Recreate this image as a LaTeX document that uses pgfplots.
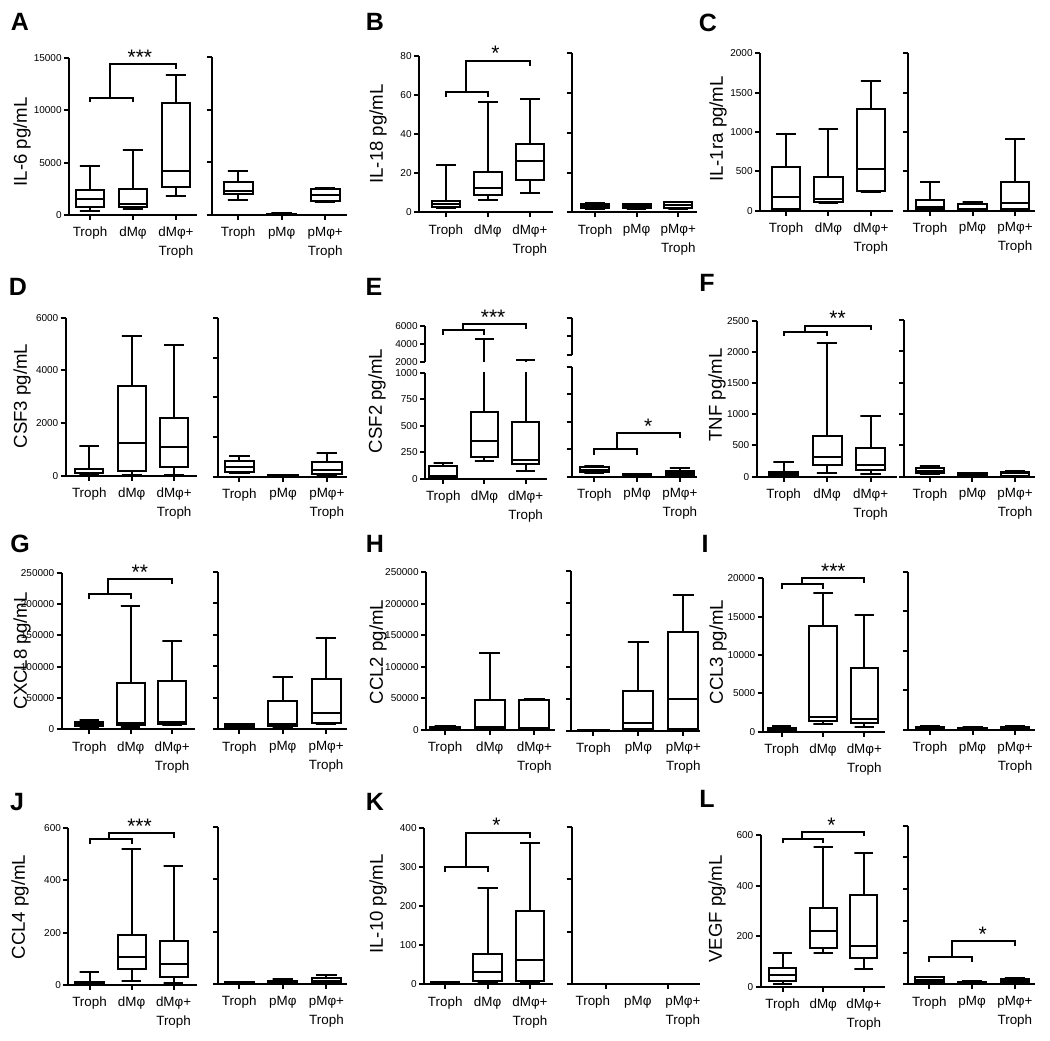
\documentclass[border=0pt]{standalone}
\usepackage{fontspec}
\setmainfont{Liberation Sans}
\usepackage{pgfplots}
\pgfplotsset{compat=1.18}
\pgfplotsset{
  base/.style={scale only axis, anchor=south west,
    axis x line*=bottom, axis y line*=left,
    axis line style={line width=1pt, black},
    every tick/.style={black, line width=1pt},
    tick align=outside, major tick length=2.5pt,
    xtick={1,2,3}, clip=false, ymin=0, scaled y ticks=false,
    yticklabel style={font=\fontsize{5}{6}\selectfont, /pgf/number format/fixed,
      /pgf/number format/1000 sep={}, /pgf/number format/assume math mode=true, inner sep=1pt},
    xticklabel style={font=\fontsize{6.7}{9.5}\selectfont, align=center},
  },
  LA/.style={base, xticklabels={Troph,dMφ,{dMφ+\\Troph}}},
  RA/.style={base, xticklabels={Troph,pMφ,{pMφ+\\Troph}}, yticklabels={}},
  boxline/.style={black, line width=1pt, solid, mark=none},
}
\tikzset{sig/.style={anchor=base, inner sep=0pt, font=\fontsize{10.5}{12}\selectfont}}
\newcommand{\bx}[6]{%
  \pgfmathsetmacro\xa{#1-0.335}\pgfmathsetmacro\xb{#1+0.335}%
  \pgfmathsetmacro\xc{#1-0.235}\pgfmathsetmacro\xd{#1+0.235}%
  \addplot[boxline] coordinates {(\xa,#3) (\xb,#3) (\xb,#5) (\xa,#5)} --cycle;
  \addplot[boxline] coordinates {(\xa,#4) (\xb,#4)};
  \addplot[boxline] coordinates {(#1,#5) (#1,#6) (\xc,#6) (\xd,#6)};
  \addplot[boxline] coordinates {(#1,#3) (#1,#2) (\xc,#2) (\xd,#2)};
}
\newcommand{\ylab}[3]{\node[rotate=90, font=\fontsize{9.3}{11}\selectfont] at (#1pt,#2pt) {#3};}
\newcommand{\plet}[3]{\node[font=\fontsize{12.5}{14}\selectfont\bfseries] at (#1pt,#2pt) {#3};}
\begin{document}
\begin{tikzpicture}
\useasboundingbox (0,0) rectangle (525pt,520pt);
% ---------------- A
\begin{axis}[LA, at={(34.5pt,412.5pt)}, width=64pt, height=78.5pt, xmin=0.51, xmax=3.49, ymax=15000, ytick={0,5000,10000,15000}]
\bx{1}{400}{800}{1500}{2400}{4700}
\bx{2}{550}{800}{1050}{2450}{6200}
\bx{3}{1850}{2650}{4250}{10700}{13400}
\addplot[boxline] coordinates {(1,10800) (1,11200) (2,11200) (2,10800)};
\addplot[boxline] coordinates {(1.47,11200) (1.47,14400) (3,14400) (3,13950)};
\node[sig] at (axis cs:2.16,14400) {***};
\end{axis}
\begin{axis}[RA, at={(106pt,412.5pt)}, width=67.5pt, height=79pt, xmin=0.40, xmax=3.5, ymax=15000, ytick={0,5000,10000,15000}]
\bx{1}{1400}{1950}{2300}{3150}{4200}
\bx{2}{30}{50}{80}{120}{150}
\bx{3}{1200}{1350}{1900}{2500}{2600}
\end{axis}
% ---------------- B
\begin{axis}[LA, at={(209.5pt,413.85pt)}, width=67pt, height=78.15pt, xmin=0.36, xmax=3.55, ymax=80, ytick={0,20,40,60,80}]
\bx{1}{2.0}{2.9}{4.3}{5.8}{24.2}
\bx{2}{6.3}{8.9}{12.6}{20.6}{56.5}
\bx{3}{9.7}{16.5}{26.1}{35}{58}
\addplot[boxline] coordinates {(1,59.2) (1,61.7) (2,61.7) (2,59.2)};
\addplot[boxline] coordinates {(1.47,61.7) (1.47,77.6) (3,77.6) (3,75.1)};
\node[sig] at (axis cs:2.18,77.6) {*};
\end{axis}
\begin{axis}[RA, at={(285.85pt,413.85pt)}, width=62.65pt, height=79.5pt, xmin=0.44, xmax=3.45, ymax=80, ytick={0,20,40,60,80}]
\bx{1}{1.7}{2.0}{3.2}{4.2}{4.5}
\bx{2}{1.9}{2.2}{3.0}{4.0}{4.3}
\bx{3}{1.6}{2.0}{3.5}{5.0}{5.3}
\end{axis}
% ---------------- C
\begin{axis}[LA, at={(380pt,414.65pt)}, width=66.65pt, height=78.7pt, xmin=0.385, xmax=3.53, ymax=2000, ytick={0,500,1000,1500,2000}]
\bx{1}{8}{21}{169}{559}{975}
\bx{2}{93}{114}{148}{424}{1038}
\bx{3}{240}{246}{530}{1288}{1653}
\end{axis}
\begin{axis}[RA, at={(454.15pt,414.65pt)}, width=63.35pt, height=78.7pt, xmin=0.49, xmax=3.47, ymax=2000, ytick={0,500,1000,1500,2000}]
\bx{1}{8}{21}{42}{136}{369}
\bx{2}{8}{21}{25}{85}{114}
\bx{3}{8}{17}{93}{360}{907}
\end{axis}
% ---------------- D
\begin{axis}[LA, at={(32.85pt,282.15pt)}, width=65.5pt, height=79pt, xmin=0.445, xmax=3.53, ymax=6000, ytick={0,2000,4000,6000}]
\bx{1}{25}{89}{114}{240}{1127}
\bx{2}{25}{190}{1253}{3418}{5304}
\bx{3}{25}{316}{1101}{2203}{4962}
\end{axis}
\begin{axis}[RA, at={(109.15pt,281.65pt)}, width=64.35pt, height=79.2pt, xmin=0.52, xmax=3.46, ymax=2000, ytick={0,500,1000,1500,2000}]
\bx{1}{42}{55}{126}{198}{261}
\bx{2}{4}{8}{12}{17}{25}
\bx{3}{13}{29}{84}{189}{295}
\end{axis}
% ---------------- E
\begin{axis}[LA, at={(212.5pt,280.5pt)}, width=60.85pt, height=53.15pt, xmin=0.556, xmax=3.51, ymax=1000, ytick={0,250,500,750,1000}, clip=true]
\bx{1}{6}{15}{25}{122}{147}
\bx{2}{169}{204}{360}{627}{4500}
\bx{3}{78}{141}{179}{533}{2200}
\end{axis}
\begin{axis}[LA, at={(212.5pt,339.15pt)}, width=60.85pt, height=17.85pt, xmin=0.556, xmax=3.51, ymin=2000, ymax=6000, ytick={2000,4000,6000}, axis x line=none, xtick=\empty]
\addplot[boxline] coordinates {(2,2000) (2,4500)};
\addplot[boxline] coordinates {(1.765,4500) (2.235,4500)};
\addplot[boxline] coordinates {(3,2000) (3,2200)};
\addplot[boxline] coordinates {(2.765,2200) (3.235,2200)};
\addplot[boxline] coordinates {(1,5000) (1,5550) (2,5550) (2,5000)};
\addplot[boxline] coordinates {(1.47,5550) (1.47,6190) (3,6190) (3,5626)};
\node[sig] at (axis cs:2.21,6190) {***};
\end{axis}
\begin{axis}[RA, at={(285.85pt,281.65pt)}, width=62.65pt, height=55pt, xmin=0.47, xmax=3.4, ymax=1000, ytick={0,250,500,750,1000}]
\bx{1}{30}{39}{61}{91}{100}
\bx{2}{3}{6}{12}{21}{27}
\bx{3}{6}{15}{30}{55}{76}
\addplot[boxline] coordinates {(1,197) (1,248) (2,248) (2,197)};
\addplot[boxline] coordinates {(1.52,248) (1.52,394) (3,394) (3,348)};
\node[sig] at (axis cs:2.26,394) {*};
\end{axis}
\begin{axis}[RA, at={(285.85pt,342.5pt)}, width=62.65pt, height=18.65pt, xmin=0.47, xmax=3.4, ymin=2000, ymax=6000, ytick={2000,4000,6000}, axis x line=none, xtick=\empty]
\addplot[draw=none] coordinates {(1,3000)};
\end{axis}
% ---------------- F
\begin{axis}[LA, at={(378.35pt,281.65pt)}, width=70pt, height=78pt, xmin=0.38, xmax=3.6, ymax=2500, ytick={0,500,1000,1500,2000,2500}]
\bx{1}{0}{10}{40}{75}{230}
\bx{2}{53}{187}{320}{657}{2150}
\bx{3}{37}{107}{187}{454}{978}
\addplot[boxline] coordinates {(1,2254) (1,2325) (2,2325) (2,2254)};
\addplot[boxline] coordinates {(1.5,2325) (1.5,2420) (3,2420) (3,2350)};
\node[sig] at (axis cs:2.24,2420) {**};
\end{axis}
\begin{axis}[RA, at={(452pt,281.65pt)}, width=65.5pt, height=78.35pt, xmin=0.39, xmax=3.47, ymax=2500, ytick={0,500,1000,1500,2000,2500}]
\bx{1}{37}{53}{96}{134}{176}
\bx{2}{0}{11}{30}{53}{64}
\bx{3}{0}{16}{53}{80}{96}
\end{axis}
% ---------------- G
\begin{axis}[LA, at={(30.85pt,155.35pt)}, width=66.65pt, height=78.3pt, xmin=0.335, xmax=3.55, ymax=250000, ytick={0,50000,100000,150000,200000,250000}]
\bx{1}{1600}{5850}{7980}{11170}{15000}
\bx{2}{4250}{6900}{9570}{74500}{197000}
\bx{3}{6900}{8510}{12230}{77660}{141500}
\addplot[boxline] coordinates {(1,207450) (1,215960) (2,215960) (2,207450)};
\addplot[boxline] coordinates {(1.44,215960) (1.44,239900) (3,239900) (3,231900)};
\node[sig] at (axis cs:2.22,239900) {**};
\end{axis}
\begin{axis}[RA, at={(109.15pt,155.35pt)}, width=64.35pt, height=78.8pt, xmin=0.515, xmax=3.48, ymax=250000, ytick={0,50000,100000,150000,200000,250000}]
\bx{1}{3170}{4230}{5800}{7900}{8460}
\bx{2}{4230}{5800}{8460}{45450}{83500}
\bx{3}{8460}{9510}{25370}{79300}{144300}
\end{axis}
% ---------------- H
\begin{axis}[LA, at={(213pt,155pt)}, width=64.5pt, height=78.85pt, xmin=0.575, xmax=3.46, ymax=250000, ytick={0,50000,100000,150000,200000,250000}]
\bx{1}{1060}{1060}{2640}{4230}{6870}
\bx{2}{1600}{2640}{4230}{47570}{121500}
\bx{3}{2100}{2640}{3700}{47570}{49150}
\end{axis}
\begin{axis}[RA, at={(285.5pt,154.65pt)}, width=64.5pt, height=79.85pt, xmin=0.5, xmax=3.37, ymax=250000, ytick={0,50000,100000,150000,200000,250000}]
\bx{1}{100}{200}{500}{1000}{1300}
\bx{2}{1040}{2610}{11480}{62640}{139400}
\bx{3}{1040}{2610}{49000}{155000}{212450}
\end{axis}
% ---------------- I
\begin{axis}[LA, at={(381.35pt,154.15pt)}, width=61.15pt, height=76.7pt, xmin=0.54, xmax=3.5, ymax=20000, ytick={0,5000,10000,15000,20000}]
\bx{1}{87}{130}{304}{522}{783}
\bx{2}{1000}{1390}{1957}{13790}{18050}
\bx{3}{652}{1174}{1610}{8350}{15220}
\addplot[boxline] coordinates {(1,18610) (1,19260) (2,19260) (2,18610)};
\addplot[boxline] coordinates {(1.48,19260) (1.48,20000) (3,20000) (3,19430)};
\node[sig] at (axis cs:2.25,20000) {***};
\end{axis}
\begin{axis}[RA, at={(454.15pt,155pt)}, width=63.35pt, height=79.15pt, xmin=0.49, xmax=3.47, ymax=20000, ytick={0,5000,10000,15000,20000}]
\bx{1}{84}{126}{210}{421}{547}
\bx{2}{42}{84}{168}{295}{337}
\bx{3}{42}{84}{210}{337}{505}
\end{axis}
% ---------------- J
\begin{axis}[LA, at={(34.15pt,27.5pt)}, width=64.2pt, height=78.65pt, xmin=0.494, xmax=3.55, ymax=600, ytick={0,200,400,600}]
\bx{1}{1.3}{3.8}{6.4}{12.7}{48}
\bx{2}{16.5}{60}{108}{190.7}{517}
\bx{3}{9}{29}{80}{169}{455}
\addplot[boxline] coordinates {(1,536) (1,555) (2,555) (2,536)};
\addplot[boxline] coordinates {(1.47,555) (1.47,578) (3,578) (3,559)};
\node[sig] at (axis cs:2.19,578) {***};
\end{axis}
\begin{axis}[RA, at={(109.15pt,28pt)}, width=64.35pt, height=78.65pt, xmin=0.52, xmax=3.47, ymax=600, ytick={0,200,400,600}]
\bx{1}{1}{2}{4}{6}{7}
\bx{2}{1.3}{2.5}{6.4}{11.4}{19}
\bx{3}{2.5}{5}{11.4}{24}{34}
\end{axis}
% ---------------- K
\begin{axis}[LA, at={(212pt,27.85pt)}, width=64.65pt, height=78pt, xmin=0.5, xmax=3.55, ymax=400, ytick={0,100,200,300,400}]
\bx{1}{0.5}{1}{3}{5}{6}
\bx{2}{2.6}{8.5}{30.8}{77.8}{246}
\bx{3}{2.6}{9.4}{62.4}{189}{362}
\addplot[boxline] coordinates {(1,287) (1,300) (2,300) (2,287)};
\addplot[boxline] coordinates {(1.5,300) (1.5,389) (3,389) (3,376)};
\node[sig] at (axis cs:2.21,389) {*};
\end{axis}
\begin{axis}[RA, at={(285.85pt,28pt)}, width=64.15pt, height=78.65pt, xmin=0.53, xmax=3.38, ymin=0, ymax=15, ytick={0,5,10,15},
  xtick style={draw=none}]
\addplot[boxline] coordinates {(1.29,0) (1.29,-0.48)};
\addplot[boxline] coordinates {(2.67,0) (2.67,-0.48)};
\end{axis}
% ---------------- L
\begin{axis}[LA, at={(380.35pt,26.65pt)}, width=62.15pt, height=75.85pt, xmin=0.46, xmax=3.52, ymax=600, ytick={0,200,400,600}]
\bx{1}{10.5}{22.4}{46}{72.5}{132}
\bx{2}{135}{152}{222}{313}{554}
\bx{3}{70}{112}{162}{363}{530}
\addplot[boxline] coordinates {(1,567) (1,583) (2,583) (2,567)};
\addplot[boxline] coordinates {(1.47,583) (1.47,610) (3,610) (3,596)};
\node[sig] at (axis cs:2.2,610) {*};
\end{axis}
\begin{axis}[RA, at={(454.15pt,27.85pt)}, width=63.35pt, height=79.3pt, xmin=0.51, xmax=3.47, ymax=500, ytick={0,100,200,300,400,500}]
\bx{1}{6.3}{8.4}{13.7}{22}{24}
\bx{2}{2.1}{3.2}{6.3}{8.4}{10.5}
\bx{3}{4.2}{6.3}{10.5}{15.8}{19}
\addplot[boxline] coordinates {(1,71.4) (1,85) (2,85) (2,71.4)};
\addplot[boxline] coordinates {(1.52,85) (1.52,136.5) (3,136.5) (3,122)};
\node[sig] at (axis cs:2.25,136.5) {*};
\end{axis}
% ---------------- labels
\ylab{11}{449}{IL-6 pg/mL}
\ylab{189}{453}{IL-18 pg/mL}
\ylab{359}{455.5}{IL-1ra pg/mL}
\ylab{11}{322}{CSF3 pg/mL}
\ylab{188.5}{319.5}{CSF2 pg/mL}
\ylab{358.5}{322.5}{TNF pg/mL}
\ylab{11}{194.5}{CXCL8 pg/mL}
\ylab{189}{194}{CCL2 pg/mL}
\ylab{359}{194}{CCL3 pg/mL}
\ylab{10}{66.5}{CCL4 pg/mL}
\ylab{189}{68}{IL-10 pg/mL}
\ylab{358.5}{65.5}{VEGF pg/mL}
\plet{10}{509}{A}
\plet{187.5}{509}{B}
\plet{354}{508.5}{C}
\plet{9}{376.5}{D}
\plet{187}{376.5}{E}
\plet{353.5}{378.5}{F}
\plet{10}{248}{G}
\plet{187.5}{248}{H}
\plet{352.5}{248}{I}
\plet{8.5}{119}{J}
\plet{187.5}{119}{K}
\plet{353.5}{120.5}{L}
\end{tikzpicture}
\end{document}
